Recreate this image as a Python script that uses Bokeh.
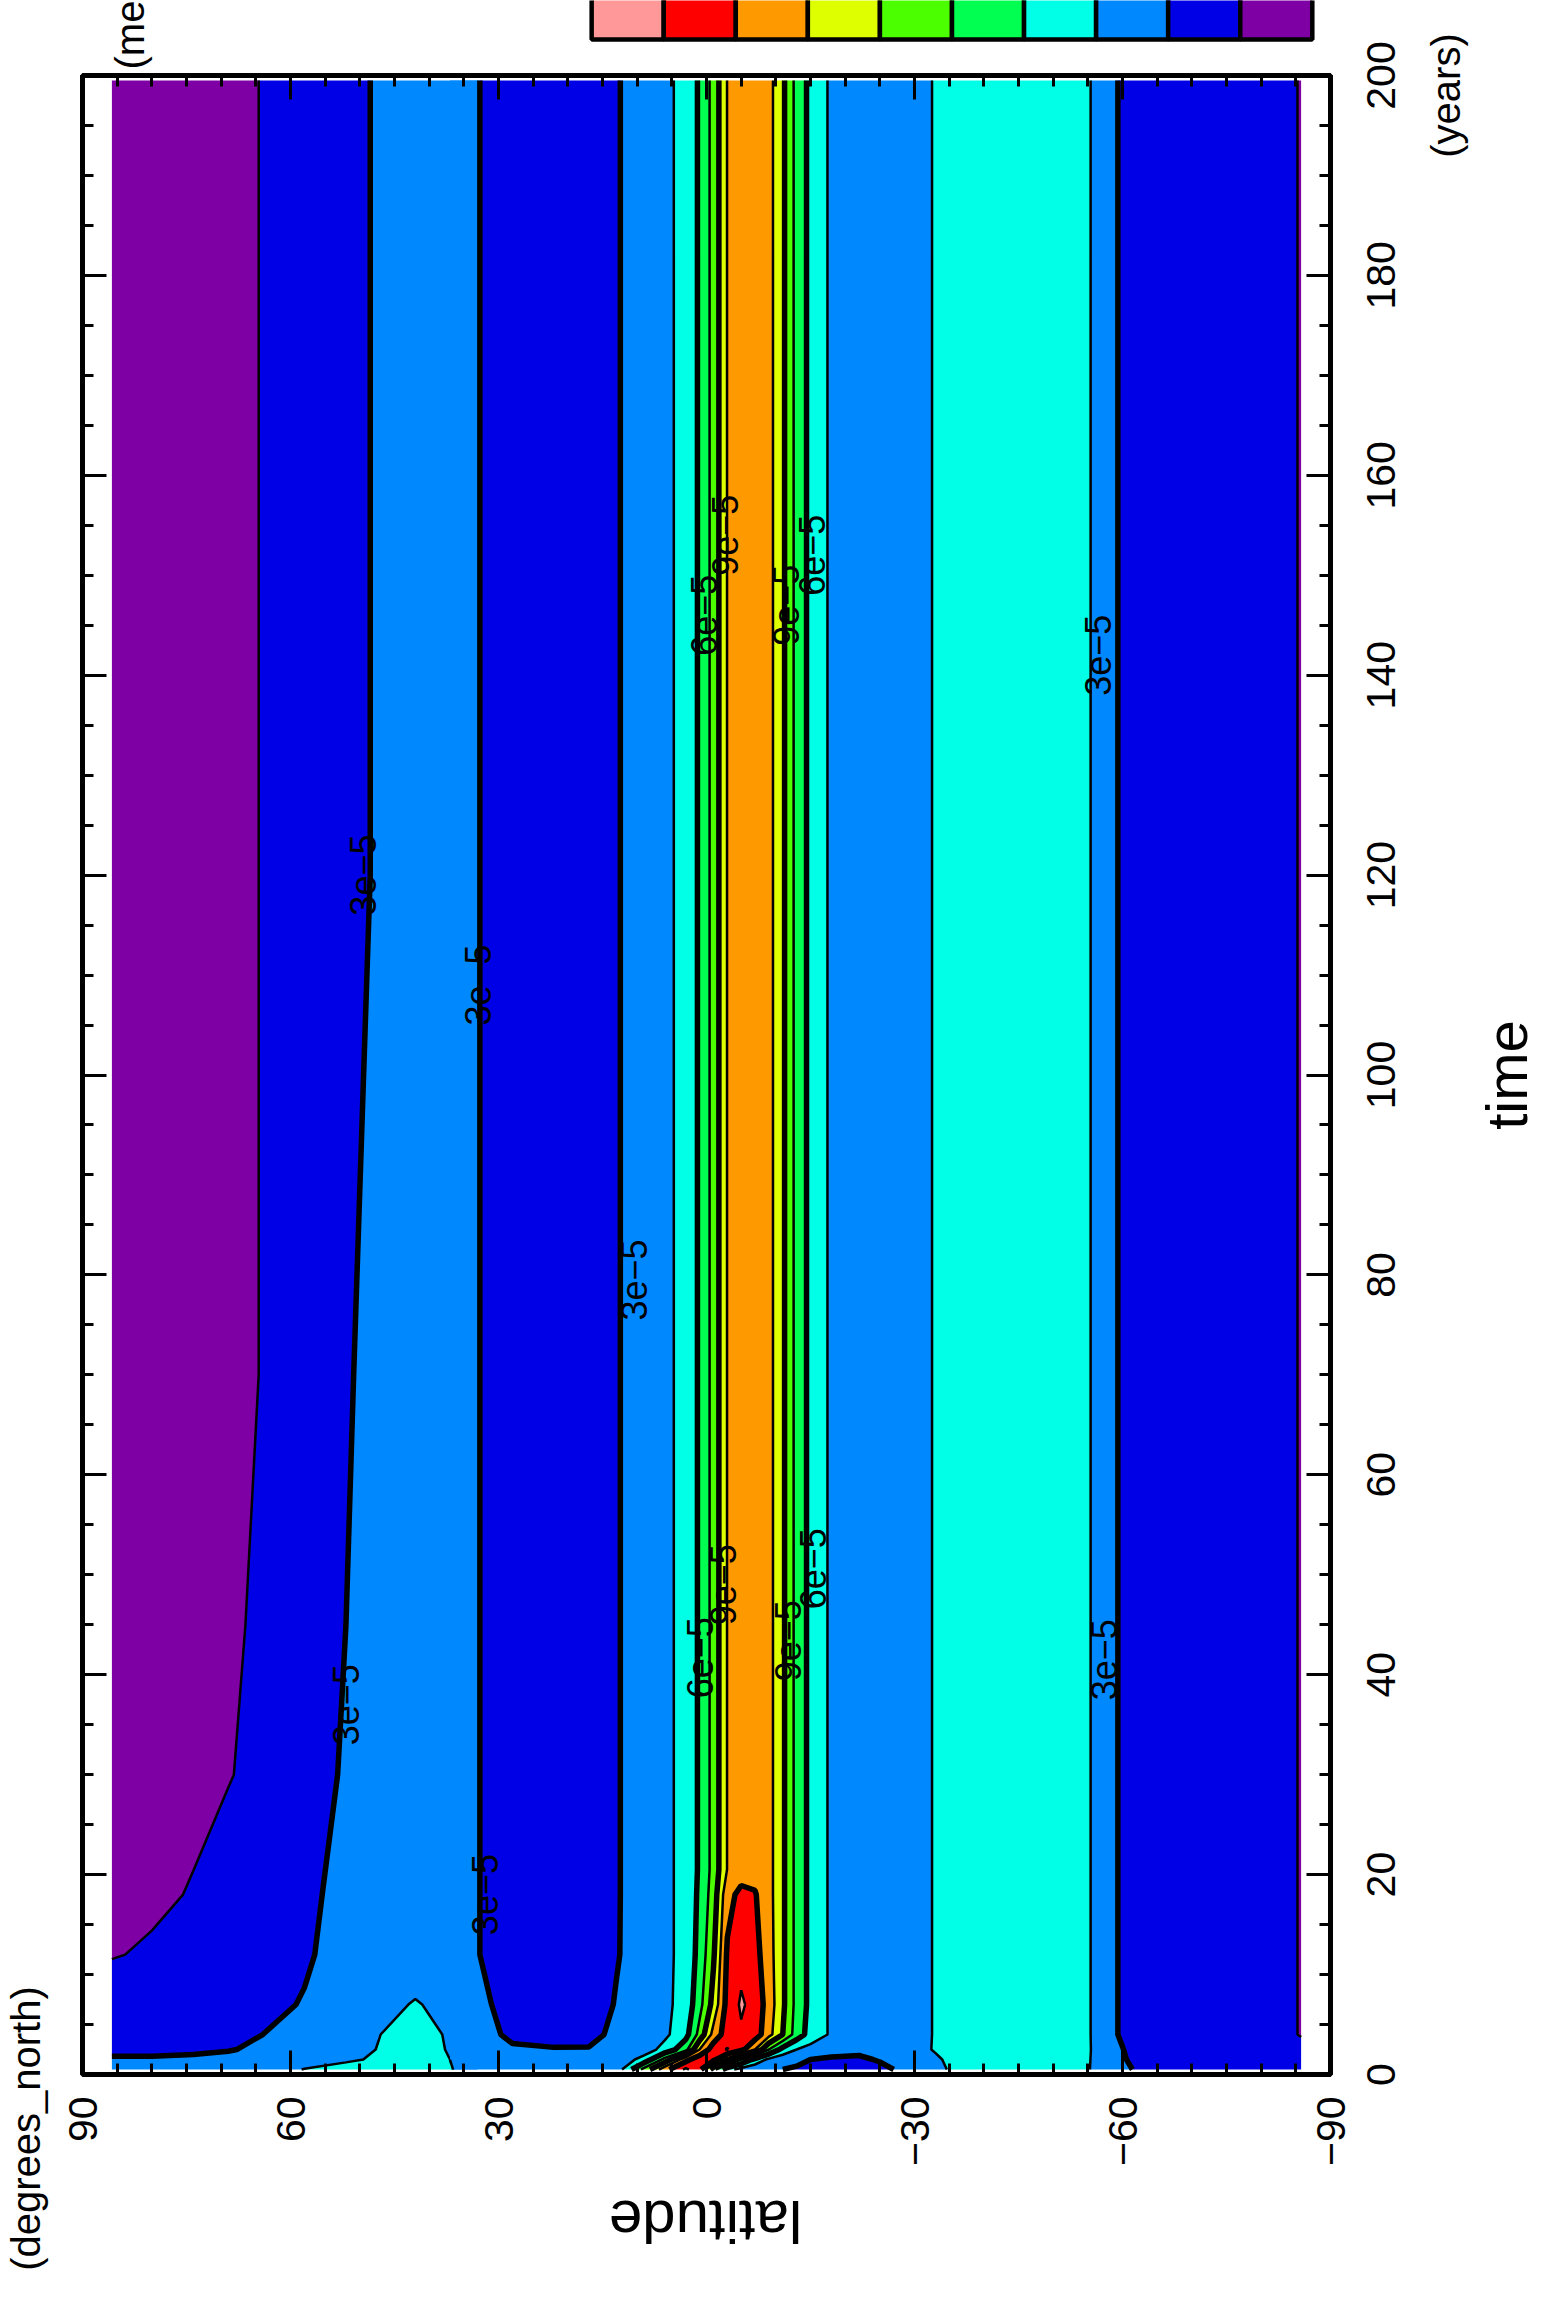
import math
import numpy as np
from bokeh.plotting import figure
from bokeh.layouts import row, column
from bokeh.models import Range1d, LinearAxis, FixedTicker
from bokeh.embed import file_html
from bokeh.resources import INLINE
from bokeh.core.properties import value

# ---------------- data (values in units of 1e-5) ----------------
lat_hi = [85.76, 80, 74, 69, 64, 58, 52, 47]
lat_mid = [42, 37, 33, 28, 22, 17, 13]
lat_tr = [9, 6, 3, 1, -1, -3, -5, -7, -9, -11, -13, -15, -18]
lat_sh = [-22, -25, -29, -33, -38, -44, -50, -55, -58, -62, -68, -75, -80, -85.76]

hi_t0_5 = [3.30, 3.30, 3.40, 3.50, 3.80, 4.55, 4.75, 4.70]
hi_t1_5 = [3.10, 3.10, 3.15, 3.25, 3.45, 3.90, 4.40, 4.60]
hi_t2_5 = [2.80, 2.80, 2.85, 2.95, 3.15, 3.60, 4.20, 4.55]
hi_t4 = [2.40, 2.45, 2.55, 2.75, 3.00, 3.30, 3.90, 4.50]
hi_t7 = [2.00, 2.05, 2.20, 2.50, 2.80, 3.05, 3.60, 4.10]
hi_t12 = [1.45, 1.60, 1.90, 2.30, 2.60, 2.90, 3.30, 3.70]
hi_t18 = [1.20, 1.35, 1.55, 1.90, 2.30, 2.85, 3.20, 3.60]
hi_t30 = [1.00, 1.10, 1.30, 1.45, 1.75, 2.60, 3.10, 3.50]
hi_t45 = [0.90, 1.00, 1.20, 1.40, 1.60, 2.20, 3.00, 3.45]
hi_t70 = [0.90, 1.00, 1.15, 1.35, 1.52, 2.00, 2.90, 3.35]
hi_eq = [0.90, 1.00, 1.15, 1.35, 1.52, 1.95, 2.65, 3.15]

mid_t0_5 = [4.70, 4.55, 4.10, 3.60, 3.40, 3.30, 3.60]
mid_t1_5 = [4.75, 4.50, 3.80, 3.30, 3.15, 3.10, 3.50]
mid_t2_5 = [4.80, 4.45, 3.50, 3.10, 3.05, 3.05, 3.40]
mid_t4 = [4.85, 4.40, 3.30, 2.85, 2.70, 2.75, 3.20]
mid_t7 = [4.60, 4.10, 3.20, 2.70, 2.40, 2.60, 3.05]
mid_eq = [3.70, 3.50, 3.02, 2.70, 2.20, 2.50, 2.95]

tr_t0_5 = [8.00, 11.50, 13.80, 12.50, 8.00, 5.00, 4.00, 3.50, 3.20, 3.00, 2.90, 2.80, 2.65]
tr_t1_5 = [5.00, 8.00, 11.50, 13.00, 12.50, 10.00, 7.50, 5.50, 4.20, 3.60, 3.20, 3.00, 2.80]
tr_t2_5 = [3.80, 5.00, 7.00, 10.50, 12.80, 13.60, 12.50, 10.50, 7.50, 5.50, 4.50, 4.00, 3.60]
tr_t4 = [3.50, 4.20, 5.50, 8.00, 11.00, 12.80, 13.30, 12.80, 11.00, 9.00, 6.80, 5.40, 4.30]
tr_t7 = [3.40, 4.20, 5.00, 7.00, 9.50, 12.50, 13.70, 13.00, 11.30, 9.30, 7.00, 5.60, 4.25]
tr_t12 = [3.35, 4.20, 4.90, 6.50, 8.80, 12.20, 13.00, 12.50, 11.10, 9.30, 7.00, 5.60, 4.25]
tr_t18 = [3.30, 4.20, 4.90, 6.30, 8.20, 11.50, 12.40, 12.10, 11.00, 9.30, 7.00, 5.60, 4.25]
tr_eq = [3.30, 4.20, 4.90, 6.20, 8.00, 10.55, 11.30, 11.50, 11.00, 9.30, 7.00, 5.60, 4.25]

sh_t0_5 = [2.50, 2.70, 3.30, 4.30, 4.90, 5.20, 5.00, 4.60, 3.60, 2.90, 2.30, 2.00, 1.80, 1.70]
sh_t1_5 = [2.80, 3.10, 3.60, 4.40, 4.90, 5.20, 5.00, 4.65, 3.45, 2.75, 2.20, 1.95, 1.75, 1.65]
sh_t2_5 = [3.30, 3.80, 4.20, 4.55, 4.90, 5.20, 5.00, 4.70, 3.35, 2.70, 2.15, 1.95, 1.75, 1.60]
sh_eq = [4.00, 4.30, 4.35, 4.52, 4.90, 5.20, 5.00, 4.70, 3.20, 2.60, 2.10, 1.90, 1.70, 1.48]

north_times = [0.5, 1.5, 2.5, 4, 7, 12, 18, 30, 45, 70, 120, 199.5]
north_rows = [
    hi_t0_5 + mid_t0_5[:3], hi_t1_5 + mid_t1_5[:3], hi_t2_5 + mid_t2_5[:3],
    hi_t4 + mid_t4[:3], hi_t7 + mid_t7[:3], hi_t12 + mid_eq[:3], hi_t18 + mid_eq[:3],
    hi_t30 + mid_eq[:3], hi_t45 + mid_eq[:3], hi_t70 + mid_eq[:3], hi_eq + mid_eq[:3],
    hi_eq + mid_eq[:3],
]
south_times = [0.5, 1.5, 2.5, 4, 7, 12, 18, 20.5, 199.5]
south_rows = [
    mid_t0_5[1:] + tr_t0_5 + sh_t0_5, mid_t1_5[1:] + tr_t1_5 + sh_t1_5,
    mid_t2_5[1:] + tr_t2_5 + sh_t2_5, mid_t4[1:] + tr_t4 + sh_eq,
    mid_t7[1:] + tr_t7 + sh_eq, mid_eq[1:] + tr_t12 + sh_eq, mid_eq[1:] + tr_t18 + sh_eq,
    mid_eq[1:] + tr_eq + sh_eq, mid_eq[1:] + tr_eq + sh_eq,
]

levels = [-10, 1.5, 3, 4.5, 6, 7.5, 9, 10.5, 12, 13.5, 100]
fill_colors = ["#7e00a5", "#0000e6", "#0088ff", "#00ffe6", "#00ff50",
               "#4cff00", "#ddff00", "#ff9900", "#ff0000", "#ff9999"]
line_widths = [0, 2.5, 5.5, 2.5, 5.5, 2.5, 5.5, 2.5, 5.5, 2.5, 0]

lab_lat = [52.0, 49.5, 33.0, 32.0, 10.5, -57.3, -56.5, 1.0, -2.4, -11.7, -15.3, 0.4, -2.6, -11.5, -15.2]
lab_t = [37, 120, 109, 18, 79.5, 41.5, 142, 41.7, 49, 43.4, 50.6, 146, 154, 147, 152]
lab_txt = ["3e\u22125"] * 7 + ["6e\u22125", "9e\u22125", "9e\u22125", "6e\u22125",
                                "6e\u22125", "9e\u22125", "9e\u22125", "6e\u22125"]

lat_major = [90, 60, 30, 0, -30, -60, -90]
lat_minor = list(range(-90, 91, 5))
lat_label_over = {-30: "\u221230", -60: "\u221260", -90: "\u221290"}
time_major = [0, 20, 40, 60, 80, 100, 120, 140, 160, 180, 200]
time_minor = list(range(0, 201, 5))

# ---------------- geometry (page pixels) ----------------
FY0, FY1 = 2082.0, 83.0    # page y of t=0 and t=200
XL, XR = 62, 1366          # page x span of the central column


def py2t(py):
    return (FY0 - py) / (FY0 - FY1) * 200


FONT = "Liberation Sans"


def aux_fig(w, h, xr, yr):
    f = figure(width=w, height=h, x_range=Range1d(*xr), y_range=Range1d(*yr),
               output_backend="svg", toolbar_location=None,
               x_axis_location=None, y_axis_location=None, min_border=0)
    f.outline_line_color = None
    f.grid.visible = False
    f.background_fill_color = "white"
    f.border_fill_color = "white"
    return f


def txt(f, x, y, s, size, angle, align="center"):
    f.text(x=[x], y=[y], text=[s], angle=angle, text_align=align, text_baseline="middle",
           text_font=value(FONT), text_font_size=size, text_color="black")


# ---------------- main plot ----------------
p = figure(width=XR - XL, height=2102, x_range=Range1d(90, -90), y_range=Range1d(0, 200),
           output_backend="svg", toolbar_location=None,
           x_axis_location=None, y_axis_location=None,
           min_border_left=90 - XL, min_border_right=XR - 1338, min_border_top=3, min_border_bottom=100)
p.background_fill_color = "white"
p.border_fill_color = "white"
p.outline_line_color = "black"
p.outline_line_width = 5
p.grid.visible = False

nlat = np.array(lat_hi + lat_mid[:3])[::-1]
nz = np.array(north_rows)[:, ::-1]
p.contour(x=nlat, y=np.array(north_times, dtype=float), z=nz, levels=levels,
          fill_color=fill_colors, line_color="black", line_width=line_widths)

slat = np.array(lat_mid[1:] + lat_tr + lat_sh)[::-1]
sz = np.array(south_rows)[:, ::-1]
p.contour(x=slat, y=np.array(south_times, dtype=float), z=sz,
          levels=levels, fill_color=fill_colors, line_color="black", line_width=line_widths)

p.text(x=lab_lat, y=lab_t, text=lab_txt, angle=math.pi / 2, text_align="center",
       text_baseline="middle", text_font=value(FONT), text_font_size="36px", text_color="black")


def style(ax):
    ax.axis_line_width = 5
    ax.major_tick_in = 24
    ax.major_tick_out = 0
    ax.minor_tick_in = 11
    ax.minor_tick_out = 0
    ax.major_tick_line_width = 3
    ax.minor_tick_line_width = 3
    ax.major_label_text_font = FONT
    ax.major_label_text_color = "black"


ax_b = LinearAxis(ticker=FixedTicker(ticks=lat_major, minor_ticks=lat_minor))
style(ax_b)
ax_b.major_label_text_font_size = "41px"
ax_b.major_label_orientation = math.pi / 2
ax_b.major_label_standoff = 22
ax_b.major_label_overrides = lat_label_over
p.add_layout(ax_b, "below")

for side, ticks, minor in (("above", lat_major, lat_minor), ("left", time_major, time_minor),
                           ("right", time_major, time_minor)):
    ax = LinearAxis(ticker=FixedTicker(ticks=ticks, minor_ticks=minor))
    style(ax)
    ax.major_label_text_font_size = "1px"
    ax.major_label_text_color = None
    ax.major_label_standoff = 0
    p.add_layout(ax, side)

# ---------------- surrounding panels ----------------
fa = aux_fig(XR - XL, 72, (XL, XR), (-80, -8))
cb_left, cb_w = 594.0, 75.3
key_colors = fill_colors[::-1]
fa.quad(left=[cb_left + i * cb_w for i in range(len(key_colors))],
        right=[cb_left + (i + 1) * cb_w for i in range(len(key_colors))],
        top=40, bottom=-47, fill_color=key_colors, line_color="black", line_width=4.5)
txt(fa, 112, -77, "(me", "40px", math.pi / 2, align="left")

fb = aux_fig(XR - XL, 120, (XL, XR), (-2302, -2182))
txt(fb, 713, -2229, "latitude", "60px", math.pi)

fl = aux_fig(XL - 8, 2294, (8, XL), (-2302, -8))
txt(fl, 33, -2136, "(degrees_north)", "40px", math.pi / 2)

fr = aux_fig(1548 - XR, 2294, (XR, 1548), (py2t(2302), py2t(8)))
fr.text(x=[1388] * len(time_major), y=time_major, text=[str(v) for v in time_major],
        angle=math.pi / 2, text_align="center", text_baseline="middle",
        text_font=value(FONT), text_font_size="41px", text_color="black")
txt(fr, 1453, py2t(103), "(years)", "40px", math.pi / 2)
txt(fr, 1514, 100, "time", "58px", math.pi / 2)

layout = row(fl, column(fa, p, fb), fr)
open("out.html", "w").write(file_html(layout, INLINE))
